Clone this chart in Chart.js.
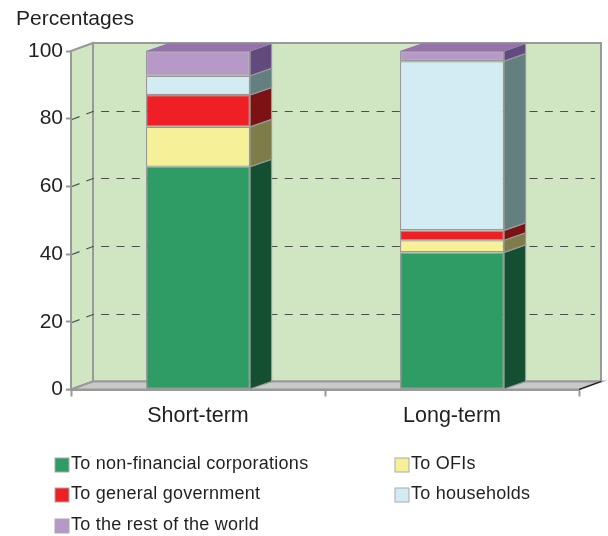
<!DOCTYPE html>
<html>
<head>
<meta charset="utf-8">
<title>Percentages</title>
<script src="https://cdn.jsdelivr.net/npm/chart.js@4"></script>
<style>
    body { margin: 0; background: #fff; }
    canvas { display: block; }
</style>
</head>
<body>
<canvas id="termChart" width="608" height="536"></canvas>
<script>
const categories = ['Short-term', 'Long-term'];
const seriesNames = ['To non-financial corporations', 'To OFIs', 'To general government', 'To households', 'To the rest of the world'];
const nonFinancial = [65.8, 40.5];
const ofis = [11.8, 3.6];
const generalGov = [9.4, 2.9];
const households = [5.7, 50];
const restOfWorld = [7.3, 3];
const frontColors = ['#2f9b65', '#f6f199', '#ee1f25', '#d3ecf3', '#b699c6'];
const sideColors = ['#154f32', '#7e7d4a', '#7c1214', '#637f80', '#624a7e'];
const topColor = '#9672ab';
const lineGrey = '#999999';
const textColor = '#231f20';
const fontName = '"Liberation Sans", Arial, sans-serif';

function poly(ctx, pts, fill, stroke, width) {
    ctx.beginPath();
    pts.forEach((p, i) => i ? ctx.lineTo(p[0], p[1]) : ctx.moveTo(p[0], p[1]));
    ctx.closePath();
    if (fill) { ctx.fillStyle = fill; ctx.fill(); }
    if (stroke) { ctx.strokeStyle = stroke; ctx.lineWidth = width; ctx.stroke(); }
}

// back wall, left wall, floor and dashed gridlines
const roomPlugin = {
    id: 'room',
    beforeDatasetsDraw(chart) {
        const { ctx, chartArea: a, scales } = chart;
        const dx = 22, dy = 8;
        ctx.save();
        poly(ctx, [[a.left + dx, a.top - dy], [a.right + dx, a.top - dy], [a.right + dx, a.bottom - dy], [a.left + dx, a.bottom - dy]], '#d0e6c3', lineGrey, 2);
        poly(ctx, [[a.left, a.top], [a.left + dx, a.top - dy], [a.left + dx, a.bottom - dy], [a.left, a.bottom]], '#d0e6c3', lineGrey, 2);
        poly(ctx, [[a.left, a.bottom], [a.left + dx, a.bottom - dy], [a.right + dx, a.bottom - dy], [a.right, a.bottom]], '#c9c9c9', lineGrey, 2);
        ctx.beginPath();
        ctx.moveTo(a.right, a.bottom);
        ctx.lineTo(a.right + dx, a.bottom - dy);
        ctx.strokeStyle = '#111';
        ctx.lineWidth = 1.2;
        ctx.stroke();
        ctx.setLineDash([8, 7.3]);
        ctx.strokeStyle = '#4d4d4a';
        ctx.lineWidth = 1.2;
        scales.y.ticks.forEach(t => {
            if (t.value === 0 || t.value === 100) return;
            const y = Math.round(scales.y.getPixelForValue(t.value)) + 0.5;
            ctx.beginPath();
            ctx.moveTo(a.left + 1, y);
            ctx.lineTo(a.left + dx, y - dy);
            ctx.lineTo(a.right + dx - 6, y - dy);
            ctx.stroke();
        });
        ctx.restore();
    },
    afterDatasetsDraw(chart) {
        const ctx = chart.ctx;
        const dx = 21.5, dy = 7.5;
        ctx.save();
        chart.data.datasets.forEach((ds, i) => {
            chart.getDatasetMeta(i).data.forEach(bar => {
                const r = bar.x + bar.width / 2, l = bar.x - bar.width / 2;
                poly(ctx, [[r, bar.y], [r + dx, bar.y - dy], [r + dx, bar.base - dy], [r, bar.base]], sideColors[i], lineGrey, 1.2);
                if (i === chart.data.datasets.length - 1) {
                    poly(ctx, [[l, bar.y], [l + dx, bar.y - dy], [r + dx, bar.y - dy], [r, bar.y]], topColor, null);
                }
            });
        });
        ctx.restore();
    }
};

// two column legend, the built in one cannot line up its columns
const legendPlugin = {
    id: 'twoColLegend',
    afterDraw(chart) {
        const ctx = chart.ctx;
        const colX = [55, 395], rowY = [458, 488, 519];
        ctx.save();
        ctx.font = '18px ' + fontName;
        ctx.letterSpacing = '0.25px';
        ctx.textBaseline = 'middle';
        ctx.textAlign = 'left';
        chart.data.datasets.forEach((ds, i) => {
            const x = colX[i % 2], y = rowY[Math.floor(i / 2)];
            ctx.fillStyle = ds.backgroundColor;
            ctx.fillRect(x, y, 14, 14);
            ctx.strokeStyle = '#aaaaaa';
            ctx.lineWidth = 1;
            ctx.strokeRect(x, y, 14, 14);
            ctx.fillStyle = textColor;
            ctx.fillText(ds.label, x + 16, y + 6);
        });
        ctx.restore();
    }
};

const allValues = [nonFinancial, ofis, generalGov, households, restOfWorld];

new Chart(document.getElementById('termChart').getContext('2d'), {
    type: 'bar',
    data: {
        labels: categories,
        datasets: allValues.map((values, i) => ({
            label: seriesNames[i],
            data: values,
            backgroundColor: frontColors[i],
            borderColor: lineGrey,
            borderWidth: 1.3,
            borderSkipped: false,
            barPercentage: 0.41,
            categoryPercentage: 1
        }))
    },
    options: {
        responsive: false,
        animation: false,
        layout: { padding: { left: 16, right: 29 } },
        plugins: {
            legend: { display: false },
            tooltip: { enabled: false },
            title: {
                display: true,
                text: 'Percentages',
                align: 'start',
                color: textColor,
                font: { family: fontName, size: 21, weight: 'normal', lineHeight: 1.2 },
                padding: { top: 7, bottom: 18.8 }
            }
        },
        scales: {
            x: {
                stacked: true,
                afterFit: scale => { scale.height = 146.5; },
                border: { color: lineGrey, width: 2 },
                grid: { drawOnChartArea: false, color: lineGrey, tickLength: 7, tickWidth: 2 },
                ticks: { color: textColor, padding: 7, font: { family: fontName, size: 21.5 } }
            },
            y: {
                stacked: true,
                min: 0,
                max: 100,
                afterFit: scale => { scale.width = 55; },
                border: { color: lineGrey, width: 2 },
                grid: { drawOnChartArea: false, color: lineGrey, tickLength: 5, tickWidth: 2 },
                ticks: { stepSize: 20, color: textColor, padding: 3, font: { family: fontName, size: 21 } }
            }
        }
    },
    plugins: [roomPlugin, legendPlugin]
});
</script>
</body>
</html>
